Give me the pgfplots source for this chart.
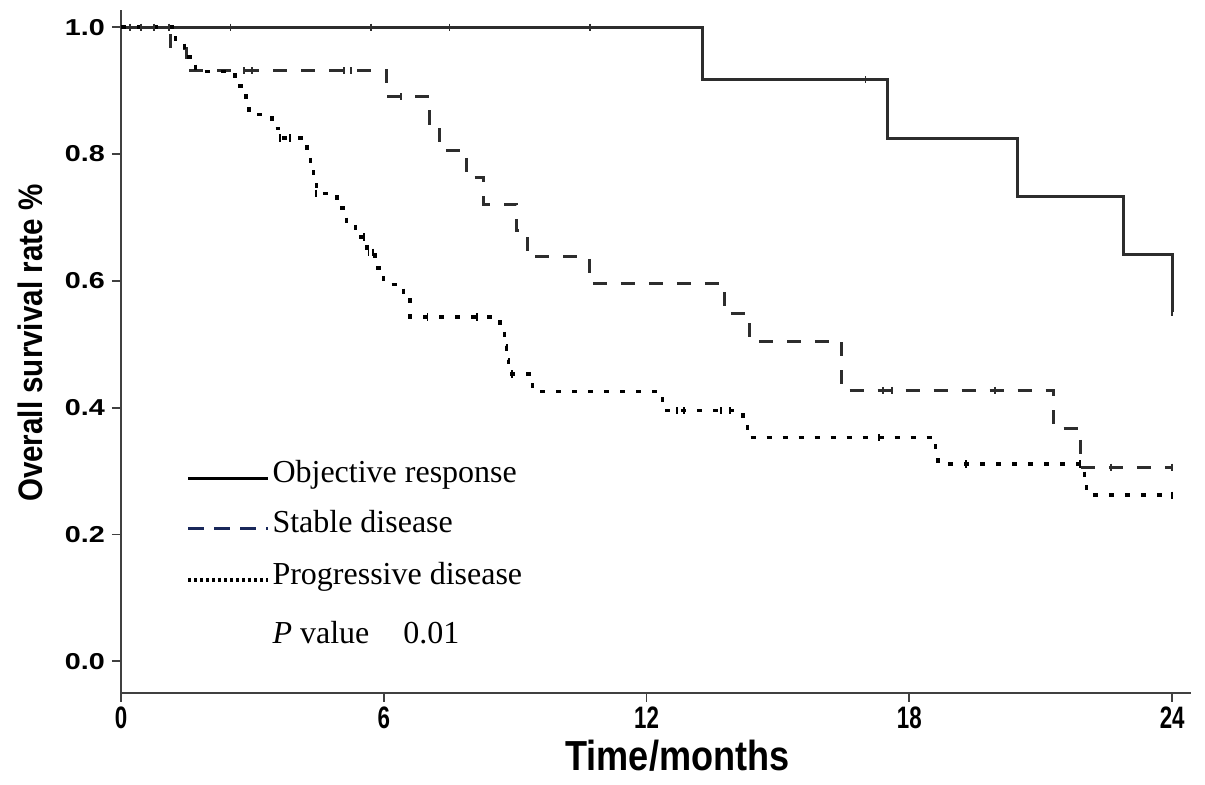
\documentclass[border=0pt]{standalone}
\usepackage{fontspec}
\setmainfont{Liberation Serif}
\newfontfamily\wideticks[FakeStretch=1.25]{Liberation Sans}
\newfontfamily\narrowticks[FakeStretch=0.72]{Liberation Sans}
\newfontfamily\xlabfont[FakeStretch=0.86]{Liberation Sans}
\newfontfamily\ylabfont[FakeStretch=0.87]{Liberation Sans}
\usepackage{pgfplots}
\pgfplotsset{compat=1.18}

\definecolor{curve}{RGB}{45,45,45}
\definecolor{navy}{RGB}{25,40,90}

\begin{document}
\begin{tikzpicture}
\begin{axis}[
    at={(0,0)}, anchor=south west,
    scale only axis,
    width=535pt, height=341.5pt,
    xmin=0, xmax=24.43,
    ymin=-0.05, ymax=1.027,
    axis x line=bottom, axis y line=left,
    axis line style={-, line width=1pt, black!75},
    tick align=outside,
    major tick length=4.5pt,
    tick style={line width=0.9pt, black!75},
    xtick={0,6,12,18,24},
    xticklabels={0,6,12,18,24},
    ytick={0,0.2,0.4,0.6,0.8,1.0},
    yticklabels={0.0,0.2,0.4,0.6,0.8,1.0},
    xticklabel style={font=\narrowticks\bfseries\fontsize{15.5}{15.5}\selectfont, yshift=1pt},
    yticklabel style={font=\wideticks\bfseries\fontsize{11.5}{11.5}\selectfont},
    xlabel={Time/months},
    ylabel={Overall survival rate \%},
    xlabel style={at={(axis description cs:0.52,-0.092)}, anchor=center,
        font=\xlabfont\bfseries\fontsize{21}{21}\selectfont},
    ylabel style={at={(axis description cs:-0.085,0.512)}, anchor=center,
        font=\ylabfont\bfseries\fontsize{17}{17}\selectfont},
    clip=false,
]

% Objective response
\addplot[const plot, line width=1.5pt, curve] coordinates {
    (0,1) (13.27,0.917) (17.5,0.825) (20.46,0.733) (22.9,0.642) (24,0.55)
};
\addplot[only marks, mark=|, mark size=1.8pt, line width=0.9pt, curve] coordinates {
    (0.2,1) (0.45,1) (0.75,1) (1.1,1) (2.5,1) (5.7,1) (7.5,1) (10.7,1)
    (17.0,0.917) (24,0.55)
};

% Stable disease
\addplot[const plot, line width=1.5pt, curve, dash pattern=on 7pt off 7pt] coordinates {
    (0,1) (1.12,0.966) (1.5,0.931) (6.07,0.89) (7.05,0.848) (7.28,0.806)
    (7.88,0.763) (8.28,0.721) (9.04,0.679) (9.27,0.638) (10.69,0.596)
    (13.77,0.549) (14.34,0.505) (16.46,0.427) (21.3,0.367) (21.9,0.306) (24,0.306)
};
\addplot[only marks, mark=|, mark size=1.8pt, line width=0.9pt, curve] coordinates {
    (2.8,0.931) (3.0,0.931) (5.1,0.931) (5.25,0.931) (6.4,0.89)
    (17.4,0.427) (17.6,0.427) (19.95,0.427) (22.6,0.306) (24,0.306)
};

% Progressive disease
\addplot[const plot, line width=1.7pt, black, dash pattern=on 2.5pt off 5.5pt] coordinates {
    (0,1) (1.25,0.977) (1.45,0.953) (1.7,0.93) (2.6,0.907) (2.85,0.884)
    (2.92,0.862) (3.45,0.84) (3.6,0.825) (4.25,0.80) (4.32,0.78) (4.4,0.76)
    (4.47,0.738) (4.93,0.715) (5.15,0.69) (5.35,0.669) (5.62,0.645) (5.8,0.62)
    (6.0,0.594) (6.45,0.57) (6.6,0.543) (8.65,0.52) (8.75,0.497) (8.8,0.475)
    (8.85,0.453) (9.4,0.425) (12.37,0.395) (14.2,0.374) (14.3,0.353)
    (18.6,0.332) (18.65,0.311) (22.0,0.286) (22.05,0.262) (24,0.262)
};
\addplot[only marks, mark=|, mark size=1.8pt, line width=0.9pt, black] coordinates {
    (3.63,0.825) (3.86,0.825) (4.45,0.738) (5.55,0.669) (5.65,0.645) (5.75,0.645)
    (7.0,0.543) (8.13,0.543) (8.93,0.453) (12.7,0.395) (12.85,0.395)
    (13.7,0.395) (13.9,0.395) (17.3,0.353) (19.3,0.311) (21.9,0.311) (24,0.262)
};

% legend
\draw[line width=1.5pt, black] (axis cs:1.53,0.289) -- (axis cs:3.36,0.289);
\draw[line width=1.5pt, navy, dash pattern=on 8pt off 5pt] (axis cs:1.53,0.210) -- (axis cs:3.36,0.210);
\draw[line width=1.8pt, black, dash pattern=on 1.5pt off 1.5pt] (axis cs:1.53,0.128) -- (axis cs:3.36,0.128);
\node[anchor=mid west, inner sep=0pt, font=\fontsize{16}{16}\selectfont] at (axis cs:3.45,0.289) {Objective response};
\node[anchor=mid west, inner sep=0pt, font=\fontsize{16}{16}\selectfont] at (axis cs:3.45,0.210) {Stable disease};
\node[anchor=mid west, inner sep=0pt, font=\fontsize{16}{16}\selectfont] at (axis cs:3.45,0.128) {Progressive disease};
\node[anchor=mid west, inner sep=0pt, font=\fontsize{16}{16}\selectfont] at (axis cs:3.45,0.036) {\textit{P} value};
\node[anchor=mid west, inner sep=0pt, font=\fontsize{16}{16}\selectfont] at (axis cs:6.44,0.036) {0.01};
\end{axis}
\pgfresetboundingbox
\path[use as bounding box] (-60.5pt,-46pt) rectangle (542pt,346.5pt);
\end{tikzpicture}
\end{document}
